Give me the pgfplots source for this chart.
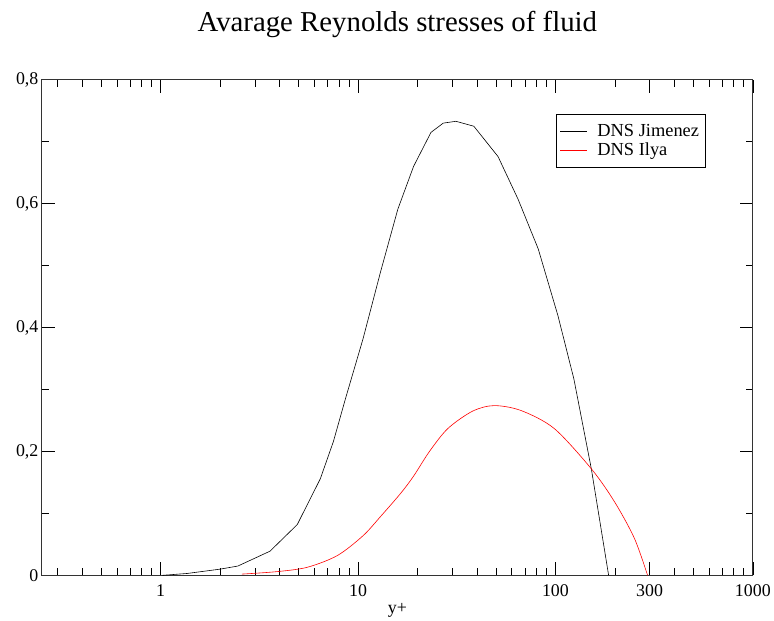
\documentclass[border=0pt]{standalone}
\usepackage{fontspec}
\setmainfont{Liberation Serif}
\usepackage{pgfplots}
\pgfplotsset{compat=1.18}

\begin{document}
\begin{tikzpicture}
\begin{axis}[
    scale only axis,
    width=713bp, height=497bp,
    xmode=log,
    xmin=0.25, xmax=1000,
    ymin=0, ymax=0.8,
    xtick={1,10,100,300,1000},
    xticklabels={1,10,100,300,1000},
    minor xtick={0.3,0.4,0.5,0.6,0.7,0.8,0.9,2,3,4,5,6,7,8,9,20,30,40,50,60,70,80,90,200,400,500,600,700,800,900},
    ytick={0,0.2,0.4,0.6,0.8},
    yticklabels={0,{0,2},{0,4},{0,6},{0,8}},
    minor ytick={0.1,0.3,0.5,0.7},
    tick align=inside,
    major tick length=13bp,
    minor tick length=7bp,
    every tick/.style={black, line width=0.6pt},
    axis line style={line width=0.9pt, black!80},
    ticklabel style={font=\fontsize{18}{20}\selectfont},
    xticklabel style={anchor=base, yshift=-21bp},
    title={Avarage Reynolds stresses of fluid},
    title style={font=\fontsize{29}{31}\selectfont, at={(0.5,1)}, anchor=base, yshift=42bp},
    xlabel={y+},
    xlabel style={font=\fontsize{18}{20}\selectfont, at={(0.5,0)}, anchor=base, yshift=-38bp},
    legend style={at={(0.933,0.93)}, anchor=north east, draw=black,
        font=\fontsize{18.5}{20}\selectfont, row sep=1pt,
        inner xsep=4pt, inner ysep=8pt,
        /tikz/every odd column/.append style={column sep=8pt}},
    legend cell align=left,
    legend image post style={xscale=1.6},
    clip=false,
]
\addplot[black, line width=0.6pt] coordinates {
    (1.02,0.0) (1.36,0.003) (2.0,0.01) (2.46,0.015) (3.58,0.039)
    (4.92,0.082) (6.44,0.156) (7.5,0.216) (8.63,0.285) (10.6,0.382)
    (13.0,0.49) (15.9,0.591) (19.1,0.66) (23.4,0.715) (27,0.73) (31.3,0.733)
    (38.6,0.725) (51.2,0.676) (64.7,0.607) (81.8,0.527) (103,0.419)
    (124,0.317) (152,0.172) (186,0.0)
};
\addlegendentry{DNS Jimenez}
\addplot[red, line width=0.6pt, smooth] coordinates {
    (2.58,0.002) (3.89,0.006) (5.53,0.013) (7.86,0.032) (10.6,0.064)
    (13.0,0.095) (16.4,0.132) (19.1,0.160) (23,0.200) (28.5,0.237) (38,0.265) (48.9,0.274)
    (67,0.266) (98.6,0.237) (152,0.172) (199,0.119) (251,0.060) (293,0.0)
};
\addlegendentry{DNS Ilya}
\path (axis description cs:-0.0589,-0.0905) rectangle (axis description cs:1.0266,1.161);
\end{axis}
\end{tikzpicture}
\end{document}
